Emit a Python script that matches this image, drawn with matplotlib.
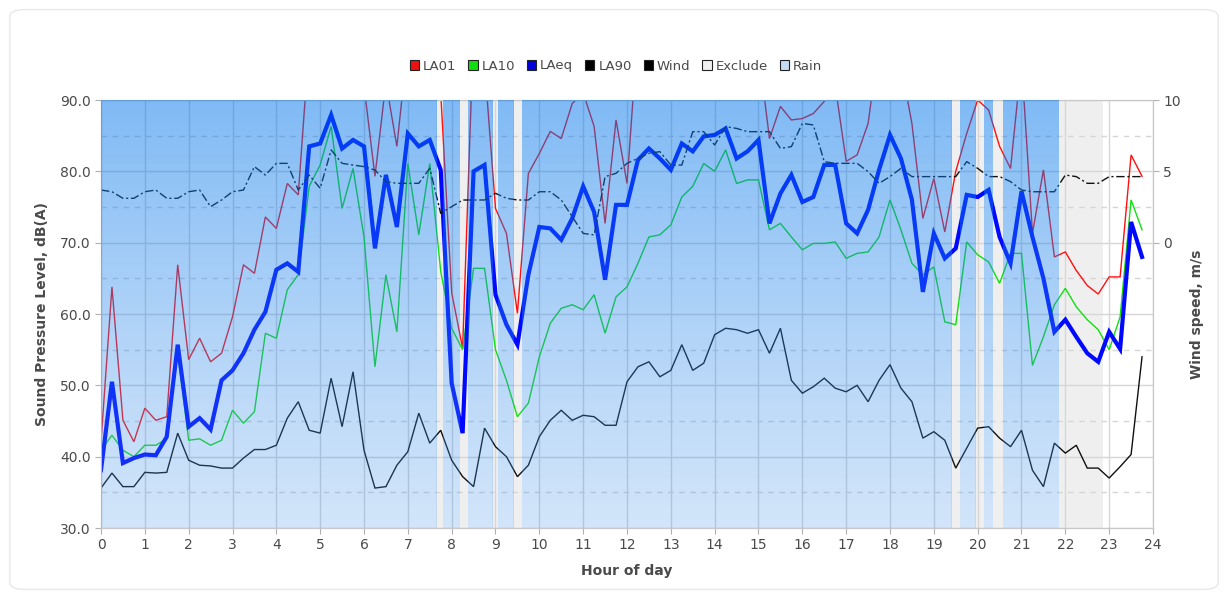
import numpy as np
import matplotlib
matplotlib.use("Agg")
import matplotlib.pyplot as plt
from matplotlib.patches import Patch, FancyBboxPatch
from matplotlib.ticker import FormatStrFormatter, MultipleLocator

# 15-minute intervals over the day
hours = np.arange(96) * 0.25

la01 = [42.1, 63.8, 45.1, 42.1, 46.8, 45.1, 45.6, 66.9, 53.6, 56.6, 53.3, 54.5,
        59.6, 66.9, 65.7, 73.6, 72.0, 78.3, 76.7, 98.0, 97.0, 99.0, 96.0, 97.0,
        92.0, 79.3, 92.5, 83.5, 98.0, 95.0, 96.0, 91.0, 63.0, 55.2, 100.0, 95.0,
        74.8, 71.3, 60.1, 79.7, 82.5, 85.6, 84.6, 89.5, 91.0, 86.3, 72.7, 87.2,
        78.3, 100.0, 97.0, 99.0, 96.0, 98.0, 100.0, 97.0, 99.0, 101.0, 98.0, 97.0,
        97.0, 84.6, 89.1, 87.2, 87.4, 88.1, 89.8, 92.0, 81.4, 82.3, 86.7, 98.0,
        100.0, 95.0, 86.7, 73.4, 79.0, 71.5, 80.0, 85.3, 90.0, 88.6, 83.5, 80.4,
        95.5, 71.3, 80.2, 68.0, 68.7, 66.1, 64.0, 62.8, 65.2, 65.2, 82.3, 79.3]

la10 = [40.9, 43.0, 40.9, 40.0, 41.6, 41.6, 42.5, 54.5, 42.3, 42.5, 41.6, 42.3,
        46.5, 44.7, 46.3, 57.3, 56.6, 63.4, 65.5, 77.9, 80.9, 86.3, 74.8, 80.4,
        70.8, 52.6, 65.5, 57.5, 81.1, 71.1, 81.1, 66.0, 58.0, 55.0, 66.4, 66.4,
        55.0, 50.7, 45.6, 47.5, 54.0, 58.7, 60.8, 61.3, 60.6, 62.7, 57.3, 62.4,
        63.8, 67.1, 70.8, 71.1, 72.5, 76.4, 77.9, 81.1, 80.0, 83.0, 78.3, 78.8,
        78.8, 71.8, 72.7, 70.8, 69.0, 69.9, 69.9, 70.1, 67.8, 68.5, 68.7, 70.8,
        76.0, 71.8, 67.1, 65.5, 66.6, 58.9, 58.5, 70.1, 68.3, 67.3, 64.3, 68.5,
        68.5, 52.8, 56.8, 61.3, 63.6, 61.0, 59.2, 57.8, 55.0, 59.6, 76.0, 71.8]

laeq = [38.1, 50.5, 39.1, 39.8, 40.3, 40.2, 42.8, 55.7, 44.2, 45.4, 43.8, 50.7,
        52.1, 54.5, 57.8, 60.3, 66.2, 67.1, 65.9, 83.5, 83.9, 87.9, 83.2, 84.4,
        83.5, 69.2, 79.5, 72.2, 85.3, 83.5, 84.4, 80.2, 50.3, 43.3, 80.0, 80.9,
        62.7, 58.5, 55.7, 65.5, 72.2, 72.0, 70.4, 73.4, 77.9, 74.3, 64.8, 75.3,
        75.3, 81.6, 83.2, 81.8, 80.2, 83.9, 82.8, 84.9, 85.1, 86.0, 81.8, 82.8,
        84.4, 72.7, 76.9, 79.5, 75.7, 76.4, 80.9, 80.9, 72.7, 71.3, 74.6, 80.2,
        85.1, 81.8, 76.0, 63.1, 71.3, 67.8, 69.2, 76.7, 76.4, 77.4, 70.8, 67.1,
        77.2, 70.8, 65.0, 57.5, 59.2, 56.8, 54.5, 53.3, 57.5, 55.1, 72.9, 68.0]

la90 = [35.6, 37.7, 35.8, 35.8, 37.8, 37.7, 37.8, 43.3, 39.5, 38.8, 38.7, 38.4,
        38.4, 39.8, 41.0, 41.0, 41.6, 45.4, 47.7, 43.7, 43.3, 51.0, 44.2, 51.9,
        40.9, 35.6, 35.8, 38.8, 40.7, 46.1, 41.9, 43.7, 39.5, 37.2, 35.8, 44.0,
        41.4, 40.0, 37.2, 38.8, 42.8, 45.1, 46.5, 45.1, 45.8, 45.6, 44.4, 44.4,
        50.5, 52.6, 53.3, 51.2, 52.1, 55.7, 52.1, 53.1, 57.1, 58.0, 57.8, 57.3,
        57.8, 54.5, 58.0, 50.7, 48.9, 49.8, 51.0, 49.6, 49.1, 50.0, 47.7, 50.7,
        52.9, 49.6, 47.7, 42.6, 43.5, 42.3, 38.4, 41.2, 44.0, 44.2, 42.6, 41.4,
        43.7, 38.1, 35.8, 41.9, 40.5, 41.6, 38.4, 38.4, 37.0, 38.6, 40.3, 54.0]

wind = [3.69, 3.57, 3.11, 3.11, 3.57, 3.69, 3.11, 3.11, 3.57, 3.69, 2.52, 2.99,
        3.57, 3.69, 5.33, 4.74, 5.56, 5.56, 3.69, 4.74, 3.81, 6.50, 5.56, 5.44,
        5.33, 5.09, 4.28, 4.16, 4.16, 4.16, 5.21, 2.06, 2.52, 2.99, 2.99, 2.99,
        3.46, 3.11, 2.99, 2.99, 3.57, 3.57, 2.99, 1.82, 0.65, 0.54, 4.63, 4.86,
        5.56, 5.91, 6.26, 6.38, 5.44, 5.44, 7.78, 7.78, 6.85, 8.13, 8.01, 7.78,
        7.78, 7.78, 6.61, 6.73, 8.36, 8.25, 5.68, 5.56, 5.56, 5.56, 4.98, 4.16,
        4.63, 5.21, 4.63, 4.63, 4.63, 4.63, 4.63, 5.68, 5.21, 4.63, 4.63, 4.28,
        3.69, 3.57, 3.57, 3.57, 4.74, 4.63, 4.16, 4.16, 4.63, 4.63, 4.63, 4.63]

exclude_spans = [(7.65, 7.80), (8.18, 8.37), (8.92, 9.05), (9.40, 9.60),
                 (19.40, 19.60), (19.95, 20.15), (20.35, 20.58), (21.85, 22.85)]
rain_spans = [(0.0, 7.65), (7.80, 8.18), (8.37, 8.92), (9.05, 9.40),
              (9.60, 19.40), (19.60, 19.95), (20.15, 20.35), (20.58, 21.85)]

hour_ticks = list(range(0, 25))
spl_ticks = [30, 40, 50, 60, 70, 80, 90]
wind_ticks = [0, 5, 10]

series = [("LA01", la01, "#ff1010", 1.0),
          ("LA10", la10, "#10e010", 1.0),
          ("LAeq", laeq, "#0008ff", 3.0),
          ("LA90", la90, "#101010", 1.0)]

plt.rcParams["font.family"] = ["DejaVu Sans"]
text_col = "#4a4a4a"
grid_col = "#d6d6d6"

fig = plt.figure(figsize=(12.28, 5.99), dpi=100)
fig.patch.set_facecolor("white")
fig.patches.append(FancyBboxPatch((0.008, 0.016), 0.984, 0.968,
                                  boxstyle="round,pad=0,rounding_size=0.012",
                                  transform=fig.transFigure, fc="none",
                                  ec="#e8e8e8", lw=1.0))

ax = fig.add_axes([101 / 1228, 71 / 599, 1052 / 1228, 428 / 599])
ax.set_facecolor("white")

# excluded periods (light grey bands)
for x0, x1 in exclude_spans:
    ax.axvspan(x0, x1, color="#efefef", lw=0, zorder=0.2)

# noise level lines
for name, vals, col, lw in series:
    ax.plot(hours, vals, color=col, lw=lw, zorder=2 + (lw > 2),
            solid_joinstyle="miter")

ax.set_xlim(0, 24)
ax.set_ylim(30, 90)
ax.set_xticks(hour_ticks)
ax.set_yticks(spl_ticks)
ax.yaxis.set_minor_locator(MultipleLocator(5))
ax.yaxis.set_major_formatter(FormatStrFormatter("%.1f"))
ax.set_axisbelow(True)
ax.grid(True, which="major", color=grid_col, lw=1.0)
ax.grid(True, which="minor", axis="y", color=grid_col, lw=1.0,
        linestyle=(0, (4, 4)))
ax.tick_params(which="minor", length=0)
ax.tick_params(which="major", length=4, color="#b0b0b0", labelcolor=text_col,
               labelsize=10)
for s in ax.spines.values():
    s.set_color("#c8c8c8")

ax.set_ylabel("Sound Pressure Level, dB(A)", fontweight="bold", color=text_col,
              fontsize=10)
ax.yaxis.set_label_coords(-0.049, 0.5)
ax.set_xlabel("Hour of day", fontweight="bold", color=text_col, fontsize=10)
ax.xaxis.set_label_coords(0.5, -0.085)

# wind speed on secondary axis
ax2 = ax.twinx()
ax2.plot(hours, wind, color="#111111", lw=1.0, linestyle=(0, (6, 2, 1.5, 2)),
         zorder=1)

# rain periods: vertical gradient laid over the lines
n = 256
frac = np.linspace(0, 1, n)[:, None]  # 0 at top, 1 at bottom
top_c = np.array([0, 117, 235]) / 255.0
bot_c = np.array([76, 152, 236]) / 255.0
grad = np.zeros((n, 1, 4))
grad[:, 0, :3] = top_c * (1 - frac) + bot_c * frac
grad[:, 0, 3] = (0.50 * (1 - frac) + 0.25 * frac)[:, 0]
for x0, x1 in rain_spans:
    ax2.imshow(grad, extent=(x0, x1, -20, 10), aspect="auto", origin="upper",
               interpolation="bilinear", zorder=5)

ax2.set_xlim(0, 24)
ax2.set_ylim(-20, 10)
ax2.set_yticks(wind_ticks)
ax2.tick_params(length=4, color="#b0b0b0", labelcolor=text_col, labelsize=10)
for s in ax2.spines.values():
    s.set_color("#c8c8c8")
ax2.set_ylabel("Wind speed, m/s", fontweight="bold", color=text_col, fontsize=10)
ax2.yaxis.set_label_coords(1.035, 0.5)

handles = [Patch(facecolor="#ee1111", edgecolor="#222222", lw=0.8),
           Patch(facecolor="#11dd11", edgecolor="#222222", lw=0.8),
           Patch(facecolor="#0000dd", edgecolor="#222222", lw=0.8),
           Patch(facecolor="#000000", edgecolor="#222222", lw=0.8),
           Patch(facecolor="#000000", edgecolor="#222222", lw=0.8),
           Patch(facecolor="#f0f0f0", edgecolor="#222222", lw=0.8),
           Patch(facecolor="#c6dcf6", edgecolor="#222222", lw=0.8)]
labels = ["LA01", "LA10", "LAeq", "LA90", "Wind", "Exclude", "Rain"]
leg = fig.legend(handles, labels, loc="center", ncol=7, frameon=False,
                 bbox_to_anchor=(616 / 1228, 1 - 66 / 599),
                 handlelength=0.7, handleheight=0.7, handletextpad=0.3,
                 columnspacing=0.9, fontsize=9.5)
for t in leg.get_texts():
    t.set_color(text_col)

fig.savefig("out.png", dpi=100)
